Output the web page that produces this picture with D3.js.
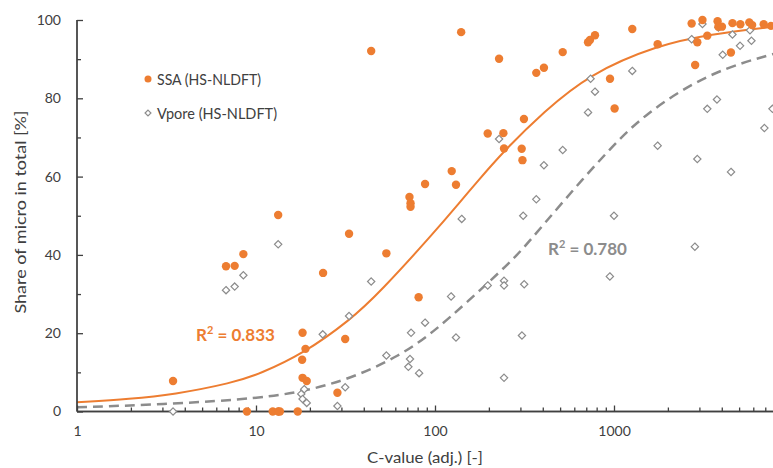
<!DOCTYPE html>
<html lang="en">
<head>
    <meta charset="UTF-8">
    <script src="https://d3js.org/d3.v7.min.js"></script>
    <title>Share of micro vs C-value</title>
    <style>
        body { margin: 0; background: #fff; }
        text { font-family: Lato, "Open Sans", sans-serif; fill: #404040; }
    </style>
</head>
<body>
    <div id="chart"></div>
    <script>
        // SSA (HS-NLDFT) points
        var ssaX = [3.44, 6.8, 7.6, 8.5, 8.9, 12.4, 13.3, 13.6, 17.1, 13.3, 18.2, 18.9, 18.1, 18.2, 19.2,
                    23.7, 28.5, 31.5, 33.1, 44, 53.5, 72, 73, 73, 81, 88, 124, 131, 140, 197, 228, 241, 243,
                    305, 308, 314, 368, 406, 517, 716, 734, 783, 950, 1008, 1265, 1753, 2715, 2840, 2920,
                    3120, 3320, 3790, 3830, 4010, 4500, 4590, 5080, 5700, 5910, 6860, 7540];
        var ssaY = [7.8, 37.1, 37.2, 40.2, 0, 0, 0, 0, 0, 50.2, 20.1, 16.0, 13.2, 8.6, 7.8,
                    35.4, 4.8, 18.5, 45.4, 92.1, 40.4, 54.8, 53.2, 52.3, 29.2, 58.1, 61.4, 57.9, 96.9, 71.0, 90.1, 71.1, 67.2,
                    67.1, 64.2, 74.7, 86.5, 87.8, 91.8, 94.3, 94.9, 96.1, 85.0, 77.4, 97.7, 93.8, 99.1, 88.5, 94.3,
                    100, 96.0, 99.7, 98.3, 98.3, 91.7, 99.2, 98.9, 99.4, 98.7, 98.9, 98.5];

        // Vpore (HS-NLDFT) points
        var vporeX = [3.44, 6.8, 7.6, 8.5, 13.3, 13.3, 17.9, 18.2, 18.6, 19.2, 23.6, 28.5, 31.5, 33.1, 44,
                      53.5, 71, 72.5, 73.5, 81.5, 88, 123, 131, 141, 197, 228, 243, 243, 243, 306, 311, 315,
                      368, 406, 517, 716, 740, 783, 948, 1000, 1265, 1753, 2715, 2830, 2920, 3120, 3320,
                      3760, 3830, 4050, 4505, 4590, 5060, 5750, 5860, 6920, 7680];
        var vporeY = [0, 31.0, 31.9, 34.8, 42.7, 0, 4.5, 3.2, 5.7, 2.2, 19.7, 1.4, 6.2, 24.4, 33.2,
                      14.3, 11.4, 13.4, 20.1, 9.8, 22.7, 29.4, 18.9, 49.2, 32.2, 69.6, 33.4, 32.2, 8.6, 19.4, 50.0, 32.5,
                      54.2, 62.9, 66.8, 76.4, 85.0, 81.7, 34.5, 50.0, 87.0, 67.9, 95.1, 42.1, 64.5, 99.0, 77.3,
                      79.7, 98.1, 91.1, 61.2, 96.3, 93.4, 97.4, 94.7, 72.4, 77.3];

        // fitted curves
        var ssaFitX = [1, 2, 3.44, 7.4, 10.5, 18.4, 33.5, 49.3, 98, 138, 172, 241, 403, 734, 1753, 3460, 7760];
        var ssaFitY = [2.35, 3.2, 4.3, 7.3, 9.6, 14.8, 23.3, 30.5, 45.5, 53.5, 58.7, 66.4, 76.5, 86.3, 93.6, 96.4, 98.3];
        var vporeFitX = [1, 3.45, 10.5, 18.4, 33.5, 63.7, 98, 150, 262, 326, 523, 900, 1470, 3460, 7760];
        var vporeFitY = [1.07, 1.9, 3.4, 5.1, 8.3, 14.2, 20.3, 27.8, 38.0, 42.7, 53.8, 66.0, 76.0, 86.8, 91.3];

        var yTicks = [0, 20, 40, 60, 80, 100];
        var xTicks = [1, 10, 100, 1000];
        var seriesNames = ["SSA (HS-NLDFT)", "Vpore (HS-NLDFT)"];
        var r2Labels = ["0.833", "0.780"];

        var width = 773, height = 468;
        var orange = "#ED7D31", grey = "#8C8C8C";

        var svg = d3.select("#chart").append("svg")
                    .attr("width", width)
                    .attr("height", height);

        var x = d3.scaleLog().domain([1, 10000]).range([77, 793]);
        var y = d3.scaleLinear().domain([0, 100]).range([411.5, 20]);

        // minor ticks
        var minorX = [];
        for (var k = 0; k < 4; k++) {
            for (var m = 2; m <= 9; m++) minorX.push(m * Math.pow(10, k));
        }
        var minorY = [10, 30, 50, 70, 90];

        // fitted curves
        var line = d3.line().x(d => x(d[0])).y(d => y(d[1])).curve(d3.curveBasis);

        svg.append("path")
           .datum(d3.zip(vporeFitX, vporeFitY))
           .attr("d", line)
           .attr("fill", "none")
           .attr("stroke", grey)
           .attr("stroke-width", 2.5)
           .attr("stroke-dasharray", "10,6");

        svg.append("path")
           .datum(d3.zip(ssaFitX, ssaFitY))
           .attr("d", line)
           .attr("fill", "none")
           .attr("stroke", orange)
           .attr("stroke-width", 2);

        // axes
        var axisColor = "#404040";
        var xAxis = svg.append("g").attr("transform", "translate(0," + y(0) + ")")
            .call(d3.axisBottom(x).tickValues(xTicks).tickFormat(d3.format("d")).tickSize(-6).tickPadding(15));
        var xMinor = svg.append("g").attr("transform", "translate(0," + y(0) + ")")
            .call(d3.axisBottom(x).tickValues(minorX).tickFormat("").tickSize(-4));
        var yAxis = svg.append("g").attr("transform", "translate(" + x(1) + ",0)")
            .call(d3.axisLeft(y).tickValues(yTicks).tickSize(-6).tickPadding(16));
        var yMinor = svg.append("g").attr("transform", "translate(" + x(1) + ",0)")
            .call(d3.axisLeft(y).tickValues(minorY).tickFormat("").tickSize(-4));

        [xAxis, xMinor, yAxis, yMinor].forEach(function (g) {
            g.selectAll("path").attr("stroke", axisColor).attr("stroke-width", 1.3);
            g.selectAll("line").attr("stroke", axisColor).attr("stroke-width", 1.3);
            g.selectAll("text").style("font-size", "14px").attr("fill", axisColor);
            g.select(".domain").attr("d", g === xAxis || g === xMinor ? "M77,0H793" : "M0,20V411.5");
        });

        // points
        svg.append("g").selectAll("path")
           .data(d3.zip(vporeX, vporeY))
           .join("path")
           .attr("d", d3.symbol(d3.symbolDiamond2, 34))
           .attr("transform", d => "translate(" + x(d[0]) + "," + y(d[1]) + ")")
           .attr("fill", "white")
           .attr("stroke", grey)
           .attr("stroke-width", 1.2);

        svg.append("g").selectAll("circle")
           .data(d3.zip(ssaX, ssaY))
           .join("circle")
           .attr("cx", d => x(d[0]))
           .attr("cy", d => y(d[1]))
           .attr("r", 4.2)
           .attr("fill", orange);

        // legend
        var legend = svg.append("g");
        legend.append("circle").attr("cx", 148).attr("cy", 79).attr("r", 3.5).attr("fill", orange);
        legend.append("path").attr("d", d3.symbol(d3.symbolDiamond2, 22))
              .attr("transform", "translate(148,113)")
              .attr("fill", "white").attr("stroke", grey).attr("stroke-width", 1.2);
        legend.selectAll("text").data(seriesNames).join("text")
              .attr("x", 157)
              .attr("y", (d, i) => 84.5 + i * 34)
              .attr("textLength", (d, i) => i === 0 ? 104 : 120)
              .attr("lengthAdjust", "spacingAndGlyphs")
              .style("font-size", "15px")
              .text(d => d);

        // R2 labels
        var r2 = svg.append("g").selectAll("text")
            .data([{ v: r2Labels[0], x: 196, y: 341, c: orange }, { v: r2Labels[1], x: 548, y: 255, c: grey }])
            .join("text")
            .attr("x", d => d.x)
            .attr("y", d => d.y)
            .style("font-size", "17px")
            .style("font-weight", "bold")
            .style("fill", d => d.c);
        r2.append("tspan").text("R");
        r2.append("tspan").attr("dy", -7).style("font-size", "11px").text("2");
        r2.append("tspan").attr("dy", 7).text(d => " = " + d.v);

        // axis titles
        svg.append("text")
           .attr("x", 425).attr("y", 463)
           .attr("text-anchor", "middle")
           .attr("textLength", 116)
           .attr("lengthAdjust", "spacingAndGlyphs")
           .style("font-size", "15px")
           .text("C-value (adj.) [-]");
        svg.append("text")
           .attr("transform", "translate(26,212) rotate(-90)")
           .attr("text-anchor", "middle")
           .attr("textLength", 203)
           .attr("lengthAdjust", "spacingAndGlyphs")
           .style("font-size", "15px")
           .text("Share of micro in total [%]");
    </script>
</body>
</html>
